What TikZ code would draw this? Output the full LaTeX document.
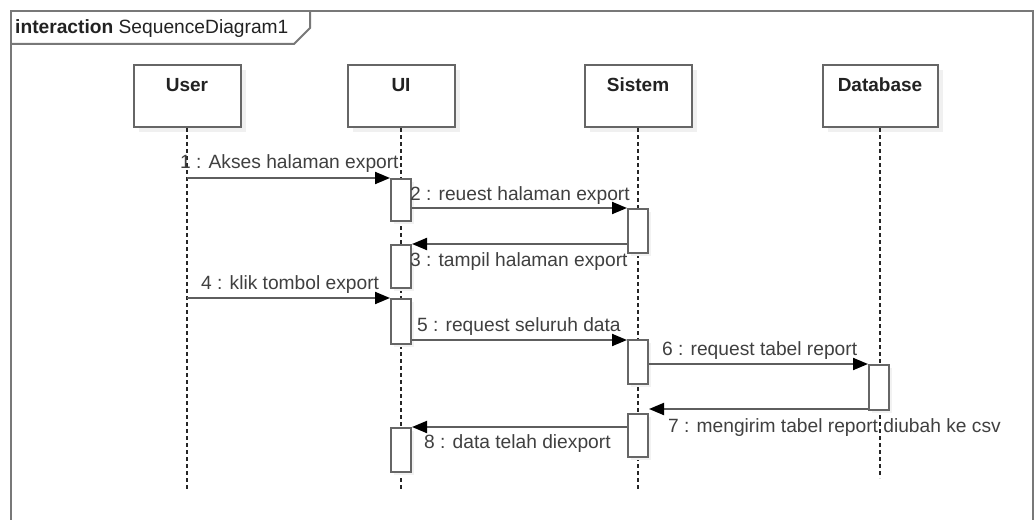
\documentclass[tikz,border=0pt]{standalone}
\usepackage{fontspec}
\setmainfont{Liberation Sans}
\usetikzlibrary{arrows.meta,shadows}
\definecolor{frameC}{HTML}{787878}
\definecolor{boxC}{HTML}{666666}
\definecolor{lineC}{HTML}{5E5E5E}
\definecolor{txtC}{HTML}{404040}
\definecolor{headT}{HTML}{222222}
\tikzset{
  head/.style={draw=boxC, line width=2pt, fill=white, minimum height=62pt, anchor=north, inner sep=0,
    drop shadow={shadow xshift=5pt, shadow yshift=-5pt, fill=black!6, opacity=1}},
  headtxt/.style={anchor=base, text=headT, font=\fontsize{19}{22}\selectfont\bfseries, inner sep=0},
  act/.style={draw=boxC, line width=2pt, fill=white, minimum width=20pt, anchor=north, inner sep=0,
    drop shadow={shadow xshift=3pt, shadow yshift=-3pt, fill=black!5, opacity=1}},
  life/.style={draw=black!85, line width=1.5pt, dash pattern=on 4pt off 3pt},
  msg/.style={draw=lineC, line width=2pt, -{Triangle[length=15pt,width=12pt,color=black]}},
  lbl/.style={anchor=base west, text=txtC, font=\fontsize{19.2}{22}\selectfont, inner sep=0},
}
\begin{document}
\begin{tikzpicture}[x=1pt,y=-1pt]
\useasboundingbox (0,0) rectangle (1035,519);
\fill[white] (0,0) rectangle (1035,519);
\begin{scope}
\clip (0,0) rectangle (1035,519);
% frame
\draw[frameC, line width=2pt] (11,11) rectangle (1033,530);
\draw[frameC, line width=2pt] (11,44) -- (294,44) -- (310,28) -- (310,11);
\node[anchor=base west, inner sep=0, text=headT, font=\fontsize{19.2}{22}\selectfont] (title) at (15,34)
  {\textbf{interaction} SequenceDiagram1};

% heads
\node[head, minimum width=107pt] (user) at (187,64) {};
\node[head, minimum width=107pt] (ui) at (401,64) {};
\node[head, minimum width=107pt] (sis) at (638,64) {};
\node[head, minimum width=115pt] (db) at (880,64) {};
\node[headtxt] (userT) at (187,91) {User};
\node[headtxt] (uiT) at (401,91) {UI};
\node[headtxt] (sisT) at (638,91) {Sistem};
\node[headtxt] (dbT) at (880,91) {Database};

% lifelines
\coordinate (userE) at (187,489);
\coordinate (uiE) at (401,490);
\coordinate (sisE) at (638,490);
\coordinate (dbE) at (880,478);
\draw[life] (user.south) -- (userE);
\draw[life] (ui.south) -- (uiE);
\draw[life] (sis.south) -- (sisE);
\draw[life] (db.south) -- (dbE);

% activations
\node[act, minimum height=42pt] (ua1) at (401,178) {};
\node[act, minimum height=43pt] (ua2) at (401,244) {};
\node[act, minimum height=45pt] (ua3) at (401,298) {};
\node[act, minimum height=44pt] (ua4) at (401,427) {};
\node[act, minimum height=44pt] (sa1) at (638,208) {};
\node[act, minimum height=44pt] (sa2) at (638,339) {};
\node[act, minimum height=43pt] (sa3) at (638,413) {};
\node[act, minimum height=45pt] (da1) at (879,364) {};

% messages
\coordinate (m1s) at (187,178);
\coordinate (m4s) at (187,298);
\draw[msg] (m1s) -- (m1s -| ua1.west);
\draw[msg] (ua1.east |- 0,208) -- (sa1.west |- 0,208);
\draw[msg] (sa1.west |- 0,244) -- (ua2.east |- 0,244);
\draw[msg] (m4s) -- (m4s -| ua3.west);
\draw[msg] (ua3.east |- 0,340) -- (sa2.west |- 0,340);
\draw[msg] (sa2.east |- 0,364) -- (da1.west |- 0,364);
\draw[msg] (da1.west |- 0,409) -- (sa3.east |- 0,409);
\draw[msg] (sa3.west |- 0,427) -- (ua4.east |- 0,427);

% labels
\node[lbl] (l1) at (180,168) {1 : Akses halaman export};
\node[lbl] (l2) at (410,200) {2 : reuest halaman export};
\node[lbl] (l3) at (410,266) {3 : tampil halaman export};
\node[lbl] (l4) at (201,289) {4 : klik tombol export};
\node[lbl] (l5) at (417,331) {5 : request seluruh data};
\node[lbl] (l6) at (662,355) {6 : request tabel report};
\node[lbl] (l7) at (668,432) {7 : mengirim tabel report diubah ke csv};
\node[lbl] (l8) at (424,448) {8 : data telah diexport};
\end{scope}
\end{tikzpicture}
\end{document}
